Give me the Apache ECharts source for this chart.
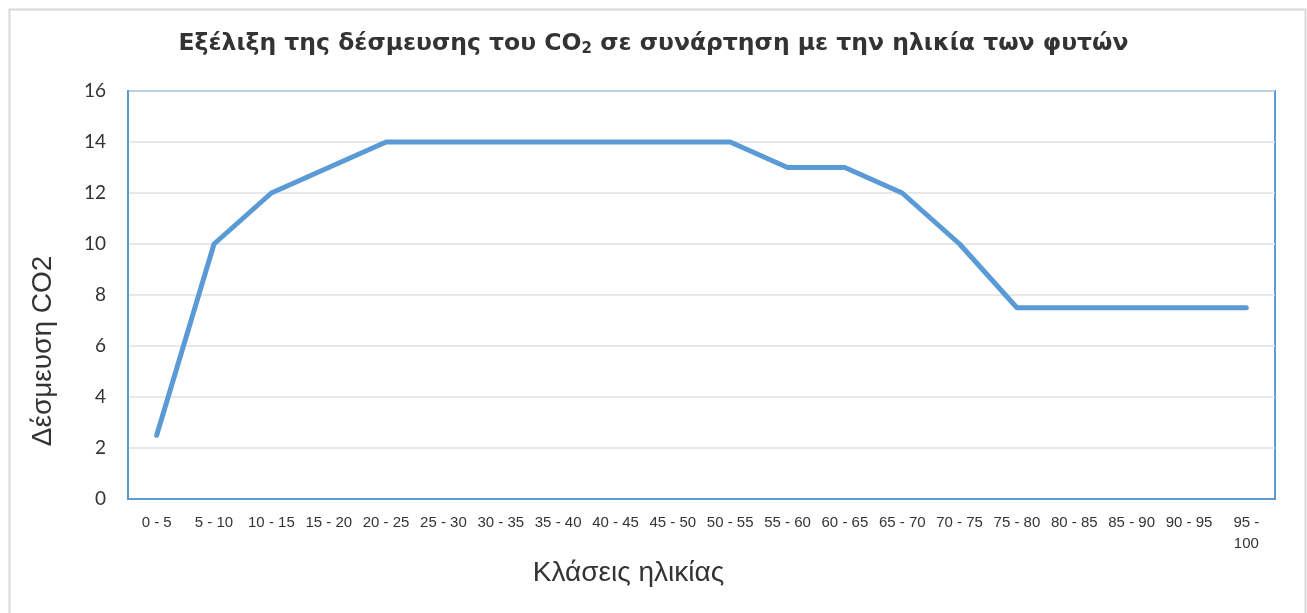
<!DOCTYPE html>
<html>
<head>
<meta charset="utf-8">
<script src="https://cdn.jsdelivr.net/npm/echarts@6/dist/echarts.min.js"></script>
<style>
  html, body { margin: 0; padding: 0; background: #fff; }
  #chart { width: 1307px; height: 613px; }
</style>
</head>
<body>
<div id="chart"></div>
<script>
const ageClasses = [
  "0 - 5", "5 - 10", "10 - 15", "15 - 20", "20 - 25", "25 - 30", "30 - 35",
  "35 - 40", "40 - 45", "45 - 50", "50 - 55", "55 - 60", "60 - 65", "65 - 70",
  "70 - 75", "75 - 80", "80 - 85", "85 - 90", "90 - 95", "95 - 100"
];
const co2Values = [
  2.5, 10, 12, 13, 14, 14, 14, 14, 14, 14, 14, 13, 13, 12, 10,
  7.5, 7.5, 7.5, 7.5, 7.5
];
const yTicks = { min: 0, max: 16, interval: 2 };

const blue = "#5b9bd5";
const chart = echarts.init(document.getElementById("chart"));

const option = {
  backgroundColor: "#fff",
  animation: false,
  graphic: [
    {
      type: "rect",
      left: 7,
      top: 7,
      shape: { width: 1296, height: 640 },
      style: { fill: "none", stroke: "#d9d9d9", lineWidth: 2 },
      silent: true,
    },
  ],
  title: {
    text: "{t|Εξέλιξη της δέσμευσης του CO}{s|2}{t| σε συνάρτηση με την ηλικία των φυτών}",
    left: "center",
    top: 24,
    textStyle: {
      rich: {
        t: {
          fontFamily: "DejaVu Sans",
          fontWeight: "bold",
          fontSize: 23.5,
          color: "#333",
          lineHeight: 30,
        },
        s: {
          fontFamily: "DejaVu Sans",
          fontWeight: "bold",
          fontSize: 15,
          color: "#333",
          lineHeight: 30,
          padding: [10, 0, 0, 0],
        },
      },
    },
  },
  grid: {
    left: 128,
    right: 32,
    top: 91,
    bottom: 114,
    show: true,
    borderColor: blue,
    borderWidth: 2,
    containLabel: false,
  },
  xAxis: {
    type: "category",
    data: ageClasses,
    boundaryGap: true,
    name: "Κλάσεις ηλικίας",
    nameLocation: "middle",
    nameGap: 58,
    nameTextStyle: {
      fontFamily: "Liberation Sans",
      fontSize: 28,
      color: "#333",
      padding: [0, 146, 0, 0],
    },
    axisLine: { lineStyle: { color: blue, width: 2 } },
    axisTick: { show: false },
    axisLabel: {
      interval: 0,
      margin: 13,
      fontFamily: "Liberation Sans",
      fontSize: 15,
      color: "#333",
      lineHeight: 21,
      formatter: (v) => (v.length > 7 ? v.replace(" - ", " -\n") : v),
    },
    splitLine: { show: false },
  },
  yAxis: {
    type: "value",
    min: yTicks.min,
    max: yTicks.max,
    interval: yTicks.interval,
    name: "Δέσμευση CO2",
    nameLocation: "middle",
    nameGap: 71,
    nameTextStyle: {
      fontFamily: "Liberation Sans",
      fontSize: 28,
      color: "#333",
      padding: [0, 112, 0, 0],
    },
    axisLine: { show: true, lineStyle: { color: blue, width: 2 } },
    axisTick: { show: false },
    axisLabel: {
      margin: 22,
      fontFamily: "Lato",
      fontSize: 19,
      color: "#333",
    },
    splitLine: { lineStyle: { color: "#e0e0e0", width: 1.5 } },
  },
  series: [
    {
      name: "Δέσμευση CO2",
      type: "line",
      data: co2Values,
      showSymbol: false,
      symbol: "none",
      lineStyle: { color: blue, width: 5, cap: "round", join: "round" },
      itemStyle: { color: blue },
    },
  ],
};

chart.setOption(option);
</script>
</body>
</html>
